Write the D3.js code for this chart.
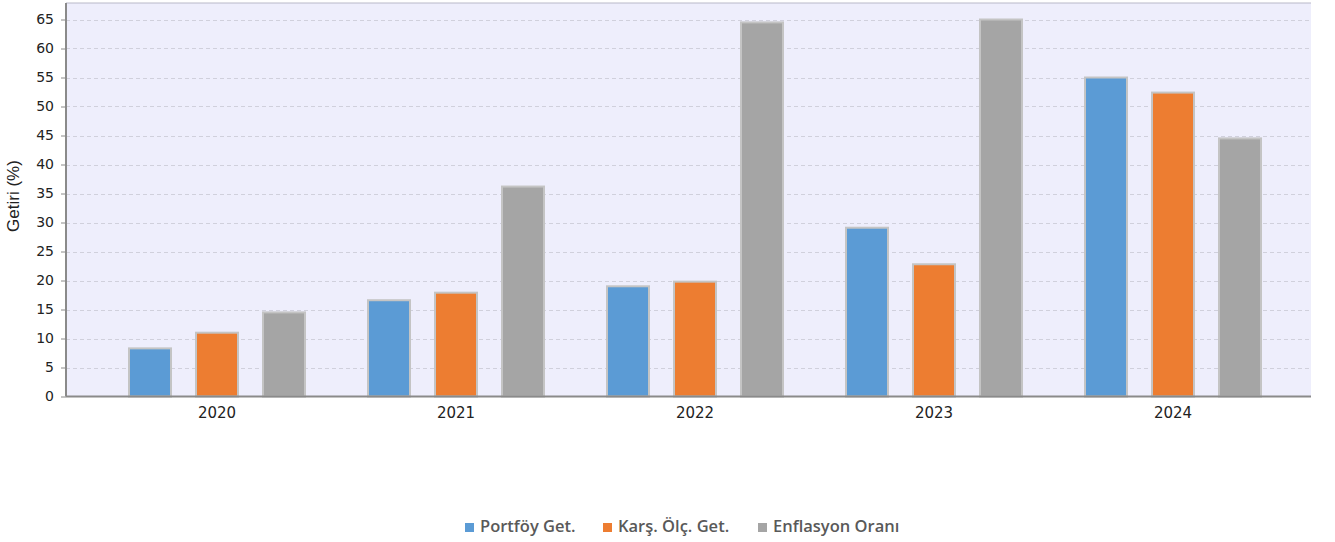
<!DOCTYPE html>
<html><head><meta charset="utf-8">
<script src="https://cdn.jsdelivr.net/npm/d3@7"></script>
<style>body{margin:0;background:#fff}svg{display:block}</style>
</head><body><svg id="c" width="1335" height="542"></svg>
<script>
const categories = ["2020","2021","2022","2023","2024"];
const seriesNames = ["Portföy Get.","Karş. Ölç. Get.","Enflasyon Oranı"];
const portfoy = [8.3, 16.6, 19.0, 29.1, 55.0];
const karsOlc = [11.0, 17.9, 19.8, 22.8, 52.4];
const enflasyon = [14.5, 36.2, 64.5, 65.0, 44.5];
const yTicks = [0,5,10,15,20,25,30,35,40,45,50,55,60,65];
const colors = ["#5b9bd5","#ed7d31","#a5a5a5"];
const yLabel = "Getiri (%)";

const series = [portfoy, karsOlc, enflasyon];
const svg = d3.select("#c");
const plot = {l:66, r:1311, t:3, b:396.5};

const y = d3.scaleLinear().domain([0,65]).range([plot.b, 19.5]);
const x = d3.scaleBand().domain(categories).range([97.5, 1292.5]).paddingInner(0).paddingOuter(0);
const xs = d3.scaleBand().domain(d3.range(3)).range([-88, 88]).paddingInner(0.373).paddingOuter(0);

svg.append("rect").attr("x",plot.l).attr("y",plot.t).attr("width",plot.r-plot.l).attr("height",plot.b-plot.t).attr("fill","#eeeefc");
svg.append("line").attr("x1",plot.l).attr("x2",plot.r).attr("y1",plot.t).attr("y2",plot.t).attr("stroke","#b8b8c8").attr("stroke-width",1);

// grid
svg.append("g").selectAll("line").data(yTicks.filter(d=>d>0)).join("line")
  .attr("x1",plot.l).attr("x2",plot.r)
  .attr("y1",d=>Math.round(y(d))+0.5).attr("y2",d=>Math.round(y(d))+0.5)
  .attr("stroke","#d0d0dc").attr("stroke-dasharray","4,3").attr("stroke-width",1);

// bars
const g = svg.append("g");
categories.forEach((c,i)=>{
  series.forEach((s,j)=>{
    g.append("rect")
      .attr("x", x(c)+x.bandwidth()/2+xs(j))
      .attr("y", y(s[i]))
      .attr("width", xs.bandwidth())
      .attr("height", plot.b - y(s[i]))
      .attr("fill", colors[j])
      .attr("stroke","#c4c4c4").attr("stroke-width",2);
  });
});

// y axis
const ya = svg.append("g").attr("transform",`translate(${plot.l},0)`)
  .call(d3.axisLeft(y).tickValues(yTicks).tickSize(5).tickPadding(7));
ya.select(".domain").attr("stroke","#8a8a8a").attr("stroke-width",2).attr("d",`M0,${plot.t}V${plot.b}`);
ya.selectAll(".tick line").attr("stroke","#8a8a8a");
ya.selectAll("text").attr("font-family","DejaVu Sans, sans-serif").attr("font-size",14).attr("fill","#222");

// x axis
svg.append("line").attr("x1",plot.l).attr("x2",plot.r).attr("y1",plot.b).attr("y2",plot.b).attr("stroke","#8a8a8a").attr("stroke-width",2);
svg.append("g").selectAll("text").data(categories).join("text")
  .attr("x",d=>x(d)+x.bandwidth()/2).attr("y",418)
  .attr("text-anchor","middle").attr("font-family","DejaVu Sans, sans-serif").attr("font-size",15).attr("fill","#222")
  .text(d=>d);

svg.append("text").attr("transform","translate(19,196) rotate(-90)").attr("text-anchor","middle")
  .attr("font-family","Liberation Sans, Arial, sans-serif").attr("font-size",17).attr("fill","#222").text(yLabel);

// legend
const legX = [465, 603, 758];
const lg = svg.append("g");
seriesNames.forEach((n,i)=>{
  lg.append("rect").attr("x",legX[i]).attr("y",523).attr("width",9).attr("height",9).attr("fill",colors[i]);
  lg.append("text").attr("x",legX[i]+15).attr("y",532).attr("font-family","Open Sans, sans-serif").attr("font-weight",600).attr("font-size",16.5).attr("fill","#595959").text(n);
});
</script></body></html>
